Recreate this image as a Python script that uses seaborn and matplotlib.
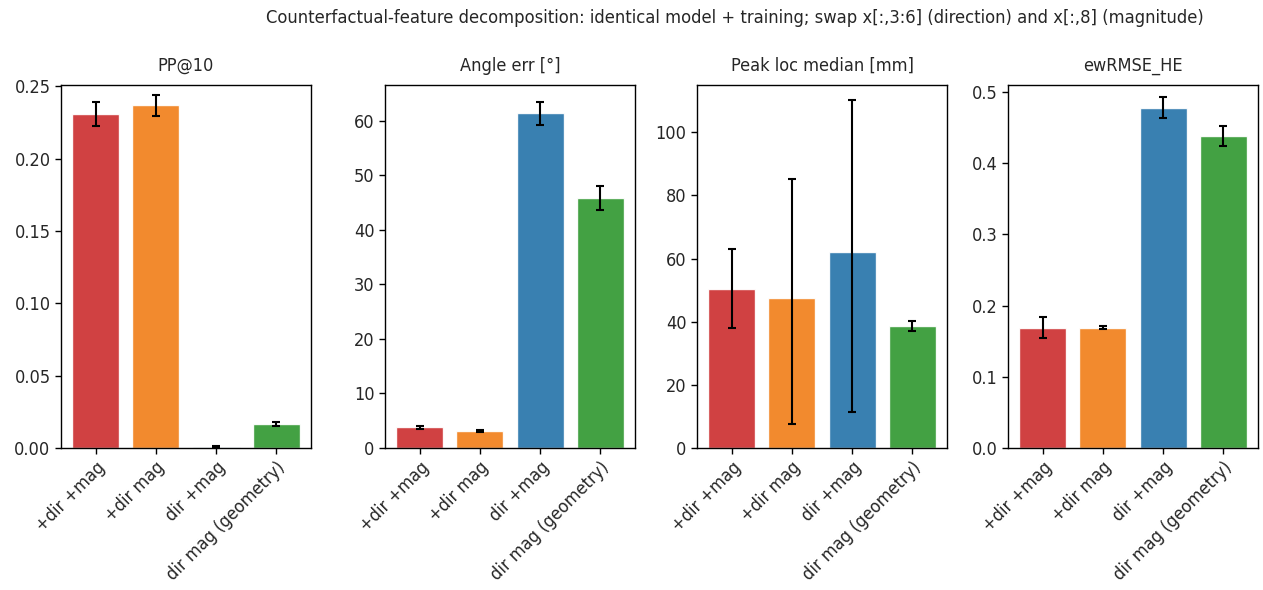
import matplotlib
matplotlib.use("Agg")
import matplotlib.pyplot as plt
from matplotlib import font_manager
import seaborn as sns
import pandas as pd
import numpy as np

sns.set_style("white")
plt.rcParams['font.family'] = ['DejaVu Sans']

has_cond = any(f.name == "DejaVu Sans" and str(f.stretch) in ("condensed", "semi-condensed")
               for f in font_manager.fontManager.ttflist)
STRETCH = "condensed" if has_cond else "normal"
plt.rcParams['font.stretch'] = STRETCH

categories = ["+dir +mag", "+dir mag", "dir +mag", "dir mag (geometry)"]
colors = ["#d62728", "#ff7f0e", "#1f77b4", "#2ca02c"]

titles = ["PP@10", "Angle err [°]", "Peak loc median [mm]", "ewRMSE_HE"]

pp10_mean = [0.231, 0.237, 0.001, 0.0168]
pp10_err = [0.0083, 0.0074, 0.0006, 0.0014]

angle_mean = [3.77, 3.10, 61.4, 45.9]
angle_err = [0.30, 0.20, 2.05, 2.15]

peak_mean = [50.4, 47.5, 62.0, 38.6]
peak_lo = [38.1, 7.7, 11.3, 37.0]
peak_hi = [62.9, 85.2, 110.3, 40.2]

ew_mean = [0.169, 0.1687, 0.478, 0.4384]
ew_err = [0.015, 0.002, 0.015, 0.014]

ylims = [(0, 0.251), (0, 66.6), (0, 115.0), (0, 0.5097)]
yticks = [[0.0, 0.05, 0.10, 0.15, 0.20, 0.25],
          [0, 10, 20, 30, 40, 50, 60],
          [0, 20, 40, 60, 80, 100],
          [0.0, 0.1, 0.2, 0.3, 0.4, 0.5]]
yfmt = ["{:.2f}", "{:.0f}", "{:.0f}", "{:.1f}"]

means = [pp10_mean, angle_mean, peak_mean, ew_mean]
errs = [
    [pp10_err, pp10_err],
    [angle_err, angle_err],
    [list(np.array(peak_mean) - np.array(peak_lo)), list(np.array(peak_hi) - np.array(peak_mean))],
    [ew_err, ew_err],
]

fig = plt.figure(figsize=(12.63, 5.9), dpi=100)
lefts = [61, 385, 697, 1008]
width_px = 250
bottom_px, top_px = 448, 85
W, H = 1263, 590

tick_fs = 13
for i in range(4):
    ax = fig.add_axes([lefts[i] / W, 1 - bottom_px / H, width_px / W, (bottom_px - top_px) / H])
    df = pd.DataFrame({"cond": categories, "val": means[i]})
    sns.barplot(data=df, x="cond", y="val", hue="cond", palette=colors,
                order=categories, hue_order=categories, legend=False,
                saturation=0.88, alpha=0.92, width=0.78, ax=ax, errorbar=None)
    ax.errorbar(np.arange(4), means[i], yerr=np.array(errs[i]), fmt="none",
                ecolor="black", elinewidth=1.5, capsize=3, capthick=1.5)
    ax.set_ylim(*ylims[i])
    ax.set_yticks(yticks[i])
    ax.set_yticklabels([yfmt[i].format(t) for t in yticks[i]], fontsize=tick_fs)
    ax.set_xticks(range(4))
    ax.set_xticklabels(categories, rotation=45, ha="right", rotation_mode="anchor", fontsize=tick_fs)
    ax.set_xlabel("")
    ax.set_ylabel("")
    ax.set_title(titles[i], fontsize=13, pad=10)
    ax.tick_params(axis="both", which="both", length=4, width=1, direction="out",
                   bottom=True, left=True, color="black")
    for s in ax.spines.values():
        s.set_visible(True)
        s.set_color("black")
        s.set_linewidth(1)

st = fig.suptitle("Counterfactual-feature decomposition: identical model + training; swap x[:,3:6] (direction) and x[:,8] (magnitude)",
                  fontsize=14, x=0.582, y=0.985)
# fit suptitle width to the reference (~944 px)
renderer = fig.canvas.get_renderer()
w = st.get_window_extent(renderer).width
st.set_fontsize(14 * 944.0 / w)

fig.savefig("out.png", dpi=100)
